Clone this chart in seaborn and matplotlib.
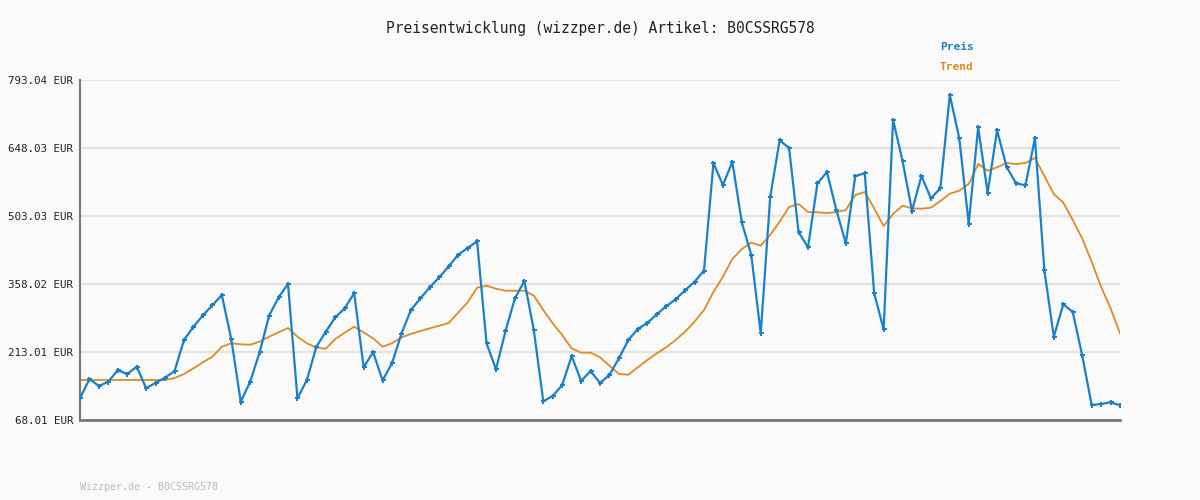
import matplotlib
matplotlib.use("Agg")
import matplotlib.pyplot as plt
import seaborn as sns
import numpy as np
import pandas as pd

# price history, one value per observation (EUR)
preis = [114.3, 155.4, 140.5, 149.7, 174.6, 166.1, 181.7, 135.6, 147.6, 158.2,
         172.5, 238.6, 267.0, 291.3, 312.6, 334.6, 240.7, 107.0, 149.7, 212.4,
         290.4, 329.6, 358.0, 114.3, 153.3, 224.3, 256.3, 287.0, 306.2, 338.8,
         180.3, 213.0, 152.6, 188.9, 252.0, 302.6, 327.5, 351.0, 372.3, 395.7,
         420.5, 434.8, 449.0, 231.6, 176.1, 257.1, 327.5, 364.4, 259.9, 107.9,
         119.2, 142.6, 204.5, 151.2, 172.5, 146.9, 164.0, 199.5, 238.6, 262.1,
         274.9, 293.4, 310.5, 325.4, 344.6, 363.0, 386.4, 616.0, 569.1, 618.2,
         489.5, 419.9, 252.9, 542.9, 664.4, 648.0, 468.9, 436.2, 572.7, 596.8,
         515.8, 444.8, 588.3, 594.1, 338.2, 261.4, 707.7, 620.3, 514.3, 588.3,
         540.7, 562.1, 761.0, 668.7, 486.6, 692.1, 552.7, 685.7, 608.2, 572.7,
         568.5, 668.7, 387.2, 245.7, 314.7, 298.3, 206.0, 100.0, 102.1, 105.7,
         99.3]

trend = [153.3, 153.3, 153.3, 153.3, 153.3, 153.3, 153.3, 153.3, 153.3, 153.3,
         157.6, 166.1, 178.2, 191.0, 203.0, 224.3, 231.6, 229.4, 228.6, 235.0,
         245.7, 255.0, 264.2, 245.7, 231.6, 222.2, 220.1, 240.7, 254.2, 267.0,
         255.0, 242.2, 224.3, 231.6, 244.4, 251.4, 257.8, 263.5, 269.1, 274.9,
         296.8, 319.0, 350.2, 354.4, 348.0, 343.7, 343.7, 343.7, 333.1, 302.6,
         274.0, 249.3, 220.9, 211.6, 211.6, 201.7, 183.8, 166.1, 164.6, 180.3,
         196.0, 210.2, 223.0, 238.6, 256.3, 277.6, 302.6, 340.9, 373.6, 411.3,
         432.6, 446.1, 439.7, 462.5, 490.9, 522.2, 528.6, 511.5, 510.9, 509.4,
         511.5, 515.8, 547.8, 554.2, 519.4, 481.7, 507.3, 525.0, 519.4, 518.6,
         520.7, 535.0, 550.6, 557.0, 571.3, 613.9, 599.6, 606.9, 616.0, 613.9,
         616.0, 626.7, 588.3, 550.0, 531.4, 494.5, 455.4, 405.6, 352.3, 306.2,
         252.9]

y_ticks = [68.01, 213.01, 358.02, 503.03, 648.03, 793.04]
y_labels = ["{:.2f} EUR".format(v) for v in y_ticks]
artikel = "B0CSSRG578"

blue = "#1a80cc"
orange = "#e08a22"
bg = "#fafafa"
mono = ["DejaVu Sans Mono"]

sns.set_style("white")
plt.rcParams["font.family"] = mono

df = pd.DataFrame({"idx": np.arange(len(preis)), "Preis": preis, "Trend": trend})

fig = plt.figure(figsize=(12, 5), dpi=100, facecolor=bg)
ax = fig.add_axes([80 / 1200, 80 / 500, 1040 / 1200, 340 / 500])
ax.set_facecolor(bg)

for v in y_ticks:
    ax.axhline(v, color="#e3e3e3", lw=1.6, zorder=0)

sns.lineplot(data=df, x="idx", y="Trend", ax=ax, color=orange, lw=1.3, zorder=2)
sns.lineplot(data=df, x="idx", y="Preis", ax=ax, color=blue, lw=1.6,
             marker="P", markersize=3.6, markeredgewidth=0, zorder=3)

ax.set_xlim(0, len(preis) - 1)
ax.set_ylim(y_ticks[0], y_ticks[-1])
ax.set_xticks([])
ax.set_yticks(y_ticks)
ax.set_yticklabels(y_labels, fontsize=7.8, color="#222222")
ax.tick_params(axis="y", length=0, pad=5)
ax.set_xlabel("")
ax.set_ylabel("")
for s in ["top", "right"]:
    ax.spines[s].set_visible(False)
ax.spines["left"].set_color("#777777")
ax.spines["left"].set_linewidth(1.5)
ax.spines["bottom"].set_color("#777777")
ax.spines["bottom"].set_linewidth(2.0)

fig.text(0.5, 1 - 28 / 500, "Preisentwicklung (wizzper.de) Artikel: " + artikel,
         ha="center", va="center", fontsize=10.5, color="#222222")
fig.text(940 / 1200, 1 - 47 / 500, "Preis", ha="left", va="center",
         fontsize=8, color=blue, fontweight="bold")
fig.text(940 / 1200, 1 - 67 / 500, "Trend", ha="left", va="center",
         fontsize=8, color=orange, fontweight="bold")
fig.text(80 / 1200, 1 - 487 / 500, "Wizzper.de - " + artikel, ha="left",
         va="center", fontsize=7.2, color="#bbbbbb")

fig.savefig("out.png", dpi=100, facecolor=bg)
